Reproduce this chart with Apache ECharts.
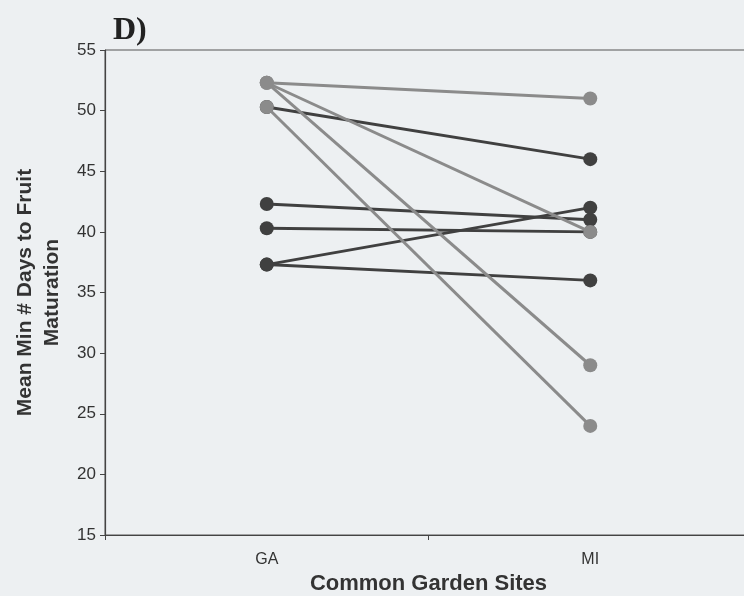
<!DOCTYPE html>
<html>
<head>
<meta charset="utf-8">
<script src="https://cdn.jsdelivr.net/npm/echarts@6/dist/echarts.min.js"></script>
<style>
html,body{margin:0;padding:0;background:#edf0f2;}
#c{width:744px;height:596px;}
</style>
</head>
<body>
<div id="c"></div>
<script>
var sites = ['GA', 'MI'];
var yTicks = [15, 20, 25, 30, 35, 40, 45, 50, 55];
// dark populations: value at GA and at MI
var gaDark = [50.3, 42.3, 40.3, 37.3, 37.3];
var miDark = [46, 41, 40, 42, 36];
// light populations
var gaLight = [52.3, 52.3, 52.3, 50.3];
var miLight = [51, 40, 29, 24];

var DARK = '#404040', LIGHT = '#8b8b8b';
var series = [];
function addLines(ga, mi, color) {
  for (var i = 0; i < ga.length; i++) {
    series.push({
      type: 'line',
      data: [ga[i], mi[i]],
      symbol: 'circle',
      symbolSize: 14,
      lineStyle: { color: color, width: 3 },
      itemStyle: { color: color },
      animation: false,
      z: color === DARK ? 2 : 3
    });
  }
}
addLines(gaDark, miDark, DARK);
addLines(gaLight, miLight, LIGHT);

var chart = echarts.init(document.getElementById('c'));
chart.setOption({
  backgroundColor: '#edf0f2',
  animation: false,
  graphic: [{
    type: 'text', left: 113, top: 15,
    style: { text: 'D)', font: 'bold 32px "Liberation Serif", "DejaVu Serif", serif', fill: '#222' }
  }],
  grid: { left: 105, top: 50, right: -8, bottom: 61, outerBoundsMode: 'none', containLabel: false, show: true, borderColor: '#555', borderWidth: 1, backgroundColor: 'transparent' },
  xAxis: {
    type: 'category',
    data: sites,
    boundaryGap: true,
    axisLine: { lineStyle: { color: '#444', width: 1.2 } },
    axisTick: { show: true, length: 5, lineStyle: { color: '#444' } },
    axisLabel: { fontFamily: 'Liberation Sans, Arial', fontSize: 16, color: '#333', margin: 17 },
    name: 'Common Garden Sites',
    nameLocation: 'middle',
    nameGap: 37,
    nameTextStyle: { fontFamily: 'Liberation Sans, Arial', fontSize: 22, fontWeight: 'bold', color: '#333' }
  },
  yAxis: {
    type: 'value',
    min: yTicks[0], max: yTicks[yTicks.length - 1], interval: 5,
    axisLine: { show: true, lineStyle: { color: '#444', width: 1.2 } },
    axisTick: { show: true, length: 5, lineStyle: { color: '#444' } },
    splitLine: { show: false },
    axisLabel: { fontFamily: 'Liberation Sans, Arial', fontSize: 17, color: '#333', margin: 9 },
    name: 'Mean Min # Days to Fruit\nMaturation',
    nameLocation: 'middle',
    nameRotate: 90,
    nameGap: 35,
    nameTextStyle: { fontFamily: 'Liberation Sans, Arial', fontSize: 21, fontWeight: 'bold', color: '#333', lineHeight: 27 }
  },
  series: series
});
</script>
</body>
</html>
